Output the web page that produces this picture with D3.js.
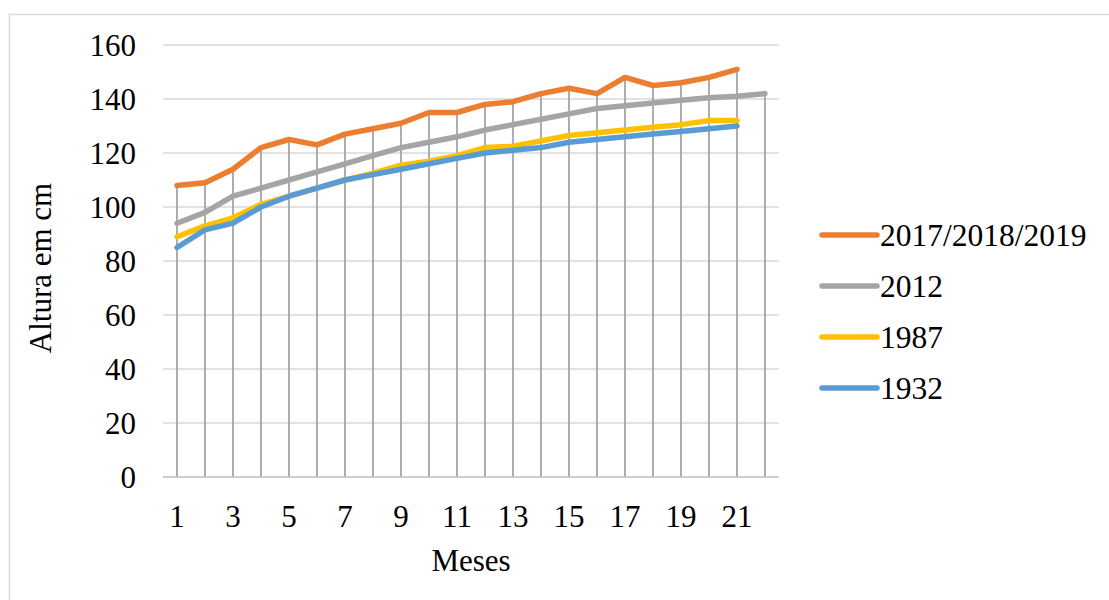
<!DOCTYPE html>
<html><head><meta charset="utf-8">
<script src="https://cdn.jsdelivr.net/npm/d3@7"></script>
<style>body{margin:0;background:#fff}svg{display:block}text{font-family:"Liberation Serif","Times New Roman",serif;fill:#000}</style>
</head><body><svg id="c" width="1109" height="600"></svg>
<script>
const months = d3.range(1, 23);
const seriesNames = ["2017/2018/2019", "2012", "1987", "1932"];
const colors = ["#ED7D31", "#A5A5A5", "#FFC000", "#5B9BD5"];
const s2017 = [108,109,114,122,125,123,127,129,131,135,135,138,139,142,144,142,148,145,146,148,151];
const s2012 = [94,98,104,107,110,113,116,119,122,124,126,128.5,130.5,132.5,134.5,136.5,137.5,138.5,139.5,140.5,141,142];
const s1987 = [89,93,96,101,104,107,110,112.5,115.5,117,119,122,122.5,124.5,126.5,127.5,128.5,129.5,130.5,132,132];
const s1932 = [85,91.5,94,100,104,107,110,112,114,116,118,120,121,122,124,125,126,127,128,129,130];
const yTicks = [0,20,40,60,80,100,120,140,160];
const xTickLabels = [1,3,5,7,9,11,13,15,17,19,21];
const allSeries = [s2017, s2012, s1987, s1932];

const svg = d3.select("#c");
svg.append("rect").attr("x",9.5).attr("y",14.5).attr("width",1120).attr("height",600).attr("fill","none").attr("stroke","#d9d9d9").attr("stroke-width",1.5);

const x = d3.scaleBand().domain(months).range([163, 779]);
const y = d3.scaleLinear().domain([0,160]).range([477, 45]);
const cx = m => x(m) + x.bandwidth()/2;

// gridlines
svg.append("g").selectAll("line").data(yTicks.filter(d=>d>0)).join("line")
  .attr("x1",163).attr("x2",779).attr("y1",d=>y(d)).attr("y2",d=>y(d))
  .attr("stroke","#d9d9d9").attr("stroke-width",1.5);

// drop lines
svg.append("g").selectAll("line").data(months).join("line")
  .attr("x1",d=>cx(d)).attr("x2",d=>cx(d)).attr("y1",y(0))
  .attr("y2",(d,i)=>y(d3.max(allSeries, s => s[i] === undefined ? -Infinity : s[i])))
  .attr("stroke","#a5a5a5").attr("stroke-width",1.8);

// x axis line
svg.append("line").attr("x1",163).attr("x2",779).attr("y1",y(0)).attr("y2",y(0)).attr("stroke","#bfbfbf").attr("stroke-width",1.5);

// y tick labels
svg.append("g").selectAll("text").data(yTicks).join("text")
  .attr("x",136).attr("y",d=>y(d)).attr("dy","0.35em").attr("text-anchor","end")
  .attr("font-size",31).text(d=>d);

// x tick labels
svg.append("g").selectAll("text").data(xTickLabels).join("text")
  .attr("x",d=>cx(d)).attr("y",516).attr("dy","0.35em").attr("text-anchor","middle")
  .attr("font-size",31).text(d=>d);

svg.append("text").attr("x",471).attr("y",560).attr("dy","0.35em").attr("text-anchor","middle").attr("font-size",31).text("Meses");
svg.append("text").attr("transform","translate(40,268) rotate(-90)").attr("dy","0.35em").attr("text-anchor","middle").attr("font-size",31).text("Altura em cm");

const line = d3.line().x((d,i)=>cx(months[i])).y(d=>y(d));
allSeries.forEach((s,k)=>{
  svg.append("path").attr("d", line(s)).attr("fill","none").attr("stroke",colors[k])
    .attr("stroke-width",5.5).attr("stroke-linejoin","round").attr("stroke-linecap","round");
});

// legend
const lg = svg.append("g");
seriesNames.forEach((n,k)=>{
  const yy = 235 + k*51;
  lg.append("line").attr("x1",822).attr("x2",877).attr("y1",yy).attr("y2",yy).attr("stroke",colors[k]).attr("stroke-width",5.5).attr("stroke-linecap","round");
  lg.append("text").attr("x",880).attr("y",yy).attr("dy","0.35em").attr("font-size",31.5).text(n);
});
</script></body></html>
